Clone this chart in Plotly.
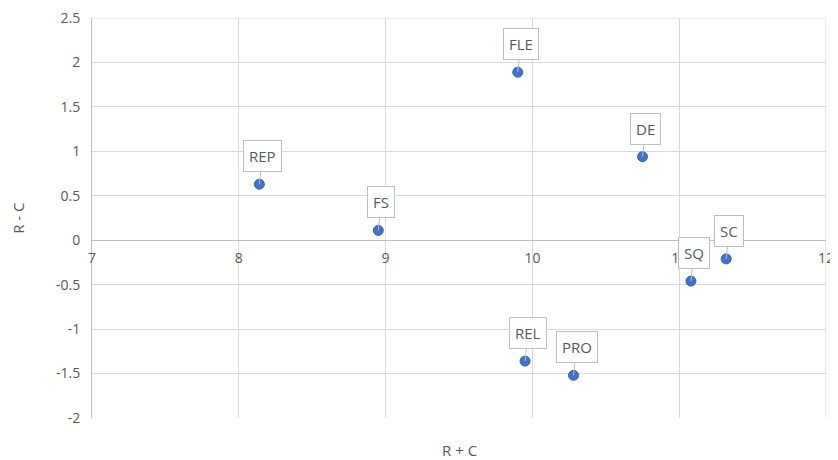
import plotly.graph_objects as go

labels = ["FLE", "DE", "REP", "FS", "SQ", "SC", "REL", "PRO"]
r_plus_c = [9.9, 10.75, 8.14, 8.95, 11.08, 11.32, 9.95, 10.28]
r_minus_c = [1.89, 0.94, 0.63, 0.11, -0.46, -0.21, -1.36, -1.52]

x_ticks = [7, 8, 9, 10, 11, 12]
x_tick_text = ["7", "8", "9", "10", "11", "12"]
y_ticks = [2.5, 2, 1.5, 1, 0.5, 0, -0.5, -1, -1.5, -2]
y_tick_text = ["2.5", "2", "1.5", "1", "0.5", "0", "-0.5", "-1", "-1.5", "-2"]

FONT = "Open Sans, sans-serif"
GRAY = "#595959"
GRID = "#d9d9d9"

x_min, x_max = 7, 12
y_min, y_max = -2, 2.5

fig = go.Figure()
# edge gridlines (plotly clips grid lines lying exactly on the plot edge)
fig.add_shape(type="line", x0=x_min, x1=x_max, y0=y_max, y1=y_max,
              line=dict(color=GRID, width=1), layer="below")
fig.add_shape(type="line", x0=x_max, x1=x_max, y0=y_min, y1=y_max,
              line=dict(color=GRID, width=1), layer="below")

fig.add_trace(go.Scatter(
    x=r_plus_c, y=r_minus_c, mode="markers",
    marker=dict(size=10, color="#4472C4", line=dict(color="#3a63ad", width=1)),
    showlegend=False, hoverinfo="x+y", cliponaxis=False))

for lab, xv, yv in zip(labels, r_plus_c, r_minus_c):
    fig.add_annotation(
        x=xv, y=yv, text=lab, showarrow=True, arrowhead=0, arrowwidth=1,
        arrowcolor="#bfbfbf", ax=3, ay=-28, bgcolor="white",
        bordercolor="#bfbfbf", borderwidth=1, borderpad=5,
        font=dict(family=FONT, size=15, color=GRAY))

fig.add_annotation(x=0.5, y=-0.079, xref="paper", yref="paper", text="R + C",
                   showarrow=False, xanchor="center", yanchor="middle",
                   font=dict(family=FONT, size=15, color=GRAY))
fig.add_annotation(x=-0.101, y=0.5, xref="paper", yref="paper", text="R - C",
                   showarrow=False, xanchor="center", yanchor="middle", textangle=-90,
                   font=dict(family=FONT, size=15, color=GRAY))

fig.update_layout(
    width=830, height=452,
    margin=dict(l=84, r=12, t=10, b=42),
    plot_bgcolor="white", paper_bgcolor="white",
    font=dict(family=FONT, size=14, color=GRAY),
    xaxis=dict(range=[x_min, x_max], tickvals=x_ticks, ticktext=x_tick_text,
               showgrid=True, gridcolor=GRID,
               zeroline=False, showline=True, linecolor="#bfbfbf", linewidth=1,
               anchor="free", position=(0 - y_min) / (y_max - y_min),
               ticks="", ticklabelstandoff=5, automargin=False,
               ticklabeloverflow="allow"),
    yaxis=dict(range=[y_min, y_max], tickvals=y_ticks, ticktext=y_tick_text,
               showgrid=True, gridcolor=GRID,
               zeroline=False, showline=True, linecolor="#bfbfbf", linewidth=1,
               ticks="", ticklabelstandoff=8, automargin=False,
               ticklabeloverflow="allow"),
)

fig.write_html("out.html")
